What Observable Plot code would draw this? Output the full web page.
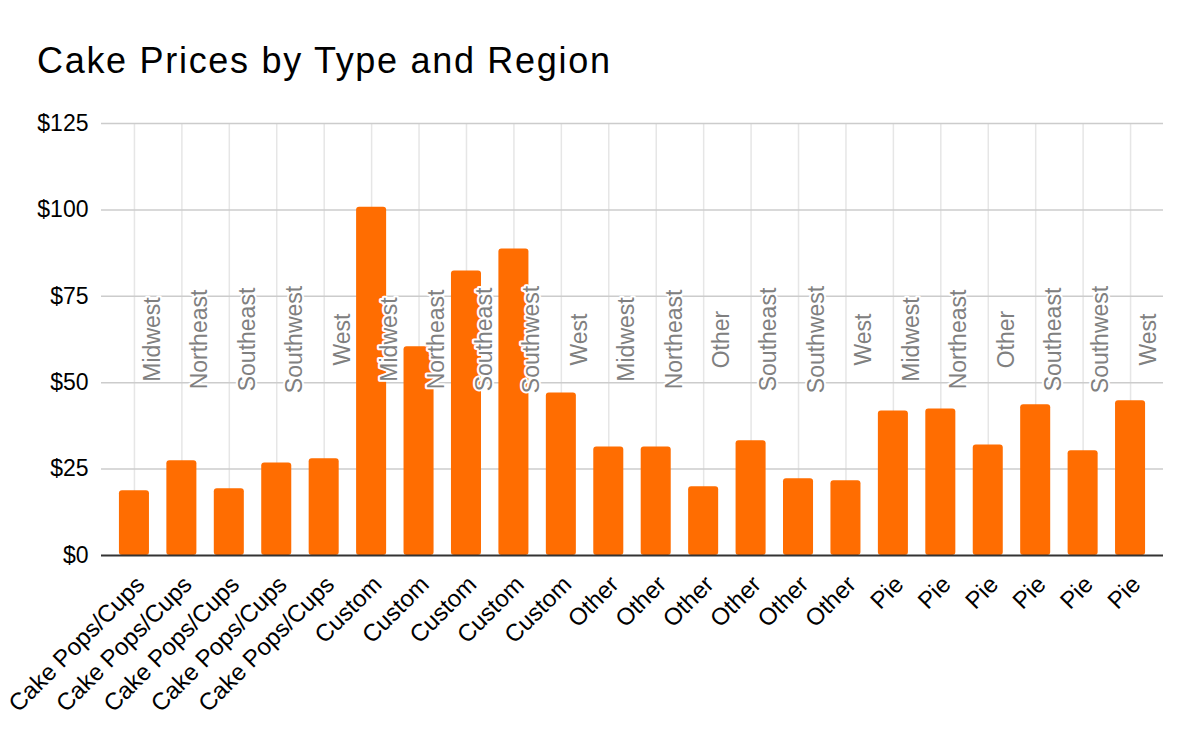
<!DOCTYPE html>
<html>
<head>
<meta charset="utf-8">
<script src="https://cdn.jsdelivr.net/npm/d3@7"></script>
<script src="https://cdn.jsdelivr.net/npm/@observablehq/plot@0.6"></script>
<style>
  html, body { margin: 0; padding: 0; background: #fff; }
  #wrap { position: relative; width: 1200px; height: 742px; font-family: Arial, "Liberation Sans", sans-serif; }
  #title { position: absolute; left: 37px; top: 43px; font-size: 36px; letter-spacing: 1.7px; color: #000; line-height: 1; white-space: nowrap; }
  #chart { position: absolute; left: 0; top: 0; }
</style>
</head>
<body>
<div id="wrap">
  <div id="chart"></div>
  <div id="title">Cake Prices by Type and Region</div>
</div>
<script>
const types = [
  "Cake Pops/Cups", "Cake Pops/Cups", "Cake Pops/Cups", "Cake Pops/Cups", "Cake Pops/Cups",
  "Custom", "Custom", "Custom", "Custom", "Custom",
  "Other", "Other", "Other", "Other", "Other", "Other",
  "Pie", "Pie", "Pie", "Pie", "Pie", "Pie"
];
const regions = [
  "Midwest", "Northeast", "Southeast", "Southwest", "West",
  "Midwest", "Northeast", "Southeast", "Southwest", "West",
  "Midwest", "Northeast", "Other", "Southeast", "Southwest", "West",
  "Midwest", "Northeast", "Other", "Southeast", "Southwest", "West"
];
const prices = [
  18.7, 27.4, 19.3, 26.8, 28.0,
  100.8, 60.4, 82.3, 88.7, 47.0,
  31.4, 31.4, 19.9, 33.2, 22.2, 21.6,
  41.8, 42.4, 32.0, 43.6, 30.3, 44.8
];
const yTicks = [0, 25, 50, 75, 100, 125];

const rows = types.map((t, i) => ({key: i, type: t, region: regions[i], price: prices[i]}));

const chart = Plot.plot({
  width: 1200,
  height: 742,
  marginLeft: 101,
  marginRight: 37,
  marginTop: 123,
  marginBottom: 187,
  style: {fontFamily: "Arial, 'Liberation Sans', sans-serif", background: "#fff", overflow: "visible"},
  x: {type: "band", domain: d3.range(types.length), paddingInner: 0.367, paddingOuter: 0.378, round: false},
  y: {domain: [0, 125]},
  marks: [
    Plot.ruleX(rows, {x: "key", y1: 0, y2: 125, stroke: "#e6e6e6", strokeWidth: 1.5}),
    Plot.ruleY(yTicks.filter(d => d > 0), {stroke: "#cccccc", strokeWidth: 1.5}),
    Plot.barY(rows, {x: "key", y: "price", fill: "#ff6d01", rx: 3}),
    Plot.ruleY([0], {stroke: "#333333", strokeWidth: 2}),
    Plot.text(rows, {
      x: "key", y: () => 62.5, text: "region", rotate: -90, dx: 18,
      fill: "#808080", fontSize: 23, stroke: "white", strokeWidth: 4, paintOrder: "stroke"
    }),
    Plot.axisY({ticks: yTicks, tickFormat: d => "$" + d, tickSize: 0, tickPadding: 13, fontSize: 23, fill: "#000", label: null}),
    Plot.axisX({tickFormat: i => types[i], tickSize: 0, tickRotate: -45, tickPadding: 25, dx: 6, fontSize: 24, fill: "#000", label: null})
  ]
});
document.getElementById("chart").appendChild(chart);
</script>
</body>
</html>
